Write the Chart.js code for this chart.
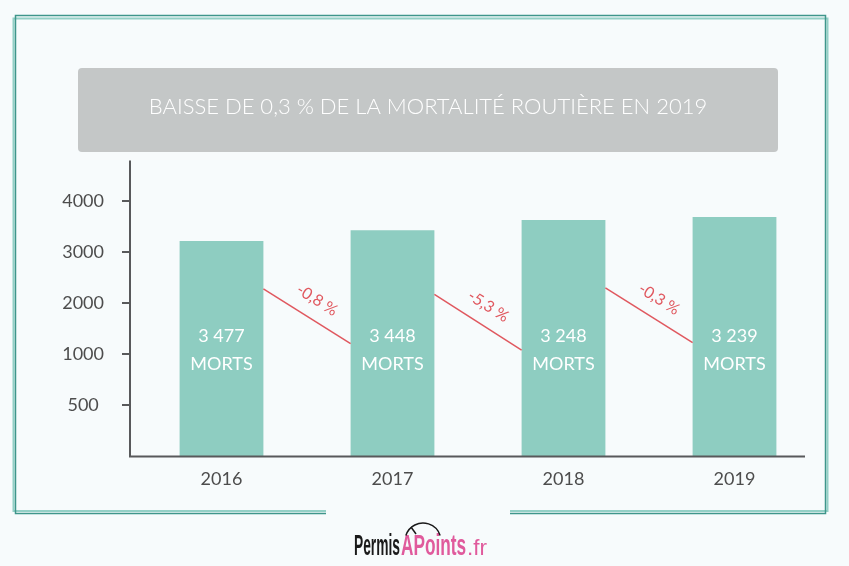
<!DOCTYPE html>
<html lang="fr">
<head>
<meta charset="utf-8">
<title>Mortalité routière 2016-2019</title>
<script src="https://cdn.jsdelivr.net/npm/chart.js@4.4.0/dist/chart.umd.min.js"></script>
<style>
  html, body { margin: 0; padding: 0; background: #f7fbfc; }
  #wrap { width: 849px; height: 566px; }
</style>
</head>
<body>
<div id="wrap"><canvas id="chart" width="849" height="566"></canvas></div>
<script>
const years = ['2016', '2017', '2018', '2019'];
const barHeights = [3220, 3430, 3630, 3690];          // hauteur des barres sur l'axe
const deaths = ['3 477', '3 448', '3 248', '3 239'];
const changes = ['-0,8 %', '-5,3 %', '-0,3 %'];
const connStart = [2283, 2174, 2304];                 // départ du trait rouge
const connEnd = [1208, 1083, 1229];                   // arrivée du trait rouge
const tickValues = [500, 1000, 2000, 3000, 4000];
const tickLabels = ['500', '1000', '2000', '3000', '4000'];
const axisMax = 4800;

const TEAL = '#8ecdc1';
const RED = '#e0585f';
const AXIS = '#58595b';

// l'axe est gradué à pas irréguliers : 500, 1000, 2000... chaque graduation = 1 cran
function toAxis(v) {
  const stops = [0].concat(tickValues);
  for (let i = 0; i < stops.length - 1; i++) {
    if (v <= stops[i + 1]) return i + (v - stops[i]) / (stops[i + 1] - stops[i]);
  }
  const n = stops.length - 1;
  return n + (v - stops[n]) / (stops[n] - stops[n - 1]);
}

const decor = {
  id: 'decor',
  beforeDraw(chart) {
    const ctx = chart.ctx;
    ctx.save();
    ctx.fillStyle = '#f7fbfc';
    ctx.fillRect(0, 0, chart.width, chart.height);

    // double cadre, ouvert en bas pour le logo
    ctx.strokeStyle = '#93d0c6';
    ctx.lineWidth = 2;
    ctx.beginPath();
    ctx.moveTo(326, 511); ctx.lineTo(13.5, 511); ctx.lineTo(13.5, 18.5);
    ctx.lineTo(827.5, 18.5); ctx.lineTo(827.5, 511); ctx.lineTo(510, 511);
    ctx.stroke();
    ctx.strokeStyle = '#3f968b';
    ctx.lineWidth = 1.5;
    ctx.beginPath();
    ctx.moveTo(326, 513.5); ctx.lineTo(15.5, 513.5); ctx.lineTo(15.5, 15.5);
    ctx.lineTo(825.5, 15.5); ctx.lineTo(825.5, 513.5); ctx.lineTo(510, 513.5);
    ctx.stroke();

    // bandeau gris du titre
    ctx.fillStyle = '#c4c7c7';
    ctx.beginPath();
    ctx.roundRect(78, 68, 700, 84, 4);
    ctx.fill();
    ctx.restore();
  },

  afterDatasetsDraw(chart) {
    const ctx = chart.ctx;
    const area = chart.chartArea;
    const y = chart.scales.y;
    const bars = chart.getDatasetMeta(0).data;
    ctx.save();

    // axes
    ctx.strokeStyle = AXIS;
    ctx.lineWidth = 2;
    ctx.beginPath();
    ctx.moveTo(area.left - 6, area.top);
    ctx.lineTo(area.left - 6, area.bottom);
    ctx.lineTo(area.right - 15, area.bottom);
    ctx.stroke();
    y.ticks.forEach(t => {
      const py = Math.round(y.getPixelForValue(t.value));
      ctx.beginPath();
      ctx.moveTo(area.left - 14, py);
      ctx.lineTo(area.left - 6, py);
      ctx.stroke();
    });

    // traits rouges et variations
    ctx.strokeStyle = RED;
    ctx.lineWidth = 1.5;
    ctx.fillStyle = RED;
    ctx.font = '16px Lato';
    ctx.textAlign = 'center';
    ctx.textBaseline = 'middle';
    changes.forEach((txt, i) => {
      const x1 = bars[i].x + bars[i].width / 2;
      const y1 = y.getPixelForValue(toAxis(connStart[i]));
      const x2 = bars[i + 1].x - bars[i + 1].width / 2;
      const y2 = y.getPixelForValue(toAxis(connEnd[i]));
      ctx.beginPath();
      ctx.moveTo(x1, y1);
      ctx.lineTo(x2, y2);
      ctx.stroke();
      const a = Math.atan2(y2 - y1, x2 - x1);
      const mx = (x1 + x2) / 2 + 19 * Math.sin(a);
      const my = (y1 + y2) / 2 - 19 * Math.cos(a);
      ctx.save();
      ctx.translate(mx, my);
      ctx.rotate(a);
      ctx.fillText(txt, 0, 0);
      ctx.restore();
    });

    // nombre de morts dans les barres
    ctx.fillStyle = '#ffffff';
    ctx.font = '18px Lato';
    bars.forEach((b, i) => {
      ctx.fillText(deaths[i], b.x, b.base - 120);
      ctx.fillText('MORTS', b.x, b.base - 92);
    });
    ctx.restore();
  },

  afterDraw(chart) {
    // logo PermisAPoints.fr
    const ctx = chart.ctx;
    const part = (txt, font, color, x, width) => {
      ctx.save();
      ctx.font = font;
      ctx.fillStyle = color;
      ctx.translate(x, 555);
      ctx.scale(width / ctx.measureText(txt).width, 1);
      ctx.fillText(txt, 0, 0);
      ctx.restore();
    };
    ctx.textBaseline = 'alphabetic';
    ctx.textAlign = 'left';
    part('Permis', 'bold 29px "Liberation Sans"', '#1a1a1a', 354, 46);
    part('APoints', 'bold 29px "Liberation Sans"', '#e05a9c', 401, 65);
    part('.fr', '22px "Liberation Sans"', '#e05a9c', 467, 20);

    ctx.save();
    ctx.strokeStyle = '#1a1a1a';
    ctx.lineWidth = 1.5;
    ctx.beginPath();
    ctx.arc(423, 541, 18, Math.PI * 1.1, Math.PI * 1.9);
    ctx.stroke();
    ctx.beginPath();
    ctx.moveTo(411, 527);
    ctx.lineTo(416, 534);
    ctx.stroke();
    ctx.restore();
  }
};

new Chart(document.getElementById('chart'), {
  type: 'bar',
  data: {
    labels: years,
    datasets: [{
      data: barHeights.map(toAxis),
      backgroundColor: TEAL,
      borderWidth: 0,
      categoryPercentage: 1,
      barPercentage: 0.49
    }]
  },
  options: {
    responsive: false,
    animation: false,
    layout: { padding: { top: 0, left: 36, right: 29, bottom: 64 } },
    plugins: {
      legend: { display: false },
      tooltip: { enabled: false },
      title: {
        display: true,
        text: 'BAISSE DE 0,3 % DE LA MORTALITÉ ROUTIÈRE EN 2019',
        color: '#ffffff',
        font: { family: 'Lato', size: 22, weight: '300' },
        padding: { top: 94, bottom: 40 }
      }
    },
    scales: {
      x: {
        grid: { display: false, drawTicks: false },
        border: { display: false },
        ticks: { color: '#4d4d4d', padding: 12, font: { family: 'Lato', size: 18 } }
      },
      y: {
        min: 0,
        max: toAxis(axisMax),
        afterBuildTicks: s => { s.ticks = tickValues.map(v => ({ value: toAxis(v) })); },
        afterFit: s => { s.width = 100; },
        grid: { display: false, drawTicks: false },
        border: { display: false },
        ticks: {
          crossAlign: 'center',
          padding: 32,
          color: '#4d4d4d',
          font: { family: 'Lato', size: 18 },
          callback: v => tickLabels[Math.round(v) - 1]
        }
      }
    }
  },
  plugins: [decor]
});
</script>
</body>
</html>
